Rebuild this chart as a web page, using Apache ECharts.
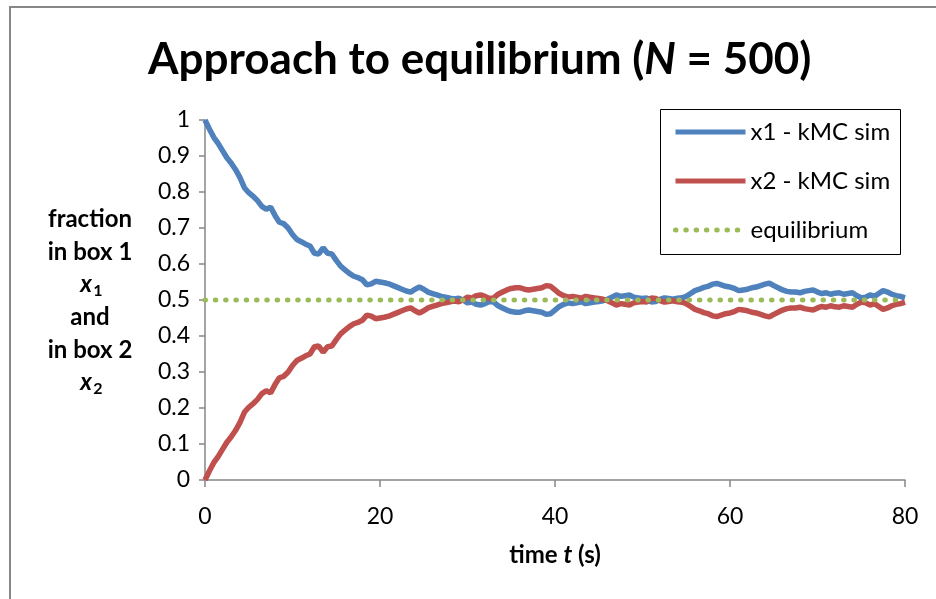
<!DOCTYPE html>
<html>
<head>
<meta charset="utf-8">
<script src="https://cdn.jsdelivr.net/npm/echarts@6/dist/echarts.min.js"></script>
<style>html,body{margin:0;padding:0;background:#fff}#c{width:936px;height:599px}</style>
</head>
<body>
<div id="c"></div>
<script>
// sampled every 0.5 s from t = 0 to t = 80
const x1 = [1.000,0.975,0.952,0.935,0.915,0.895,0.880,0.862,0.840,0.812,0.798,0.788,0.776,0.760,0.752,0.758,0.735,0.716,0.712,0.700,
0.682,0.668,0.662,0.655,0.650,0.630,0.628,0.645,0.630,0.628,0.610,0.594,0.584,0.574,0.566,0.562,0.556,0.542,0.545,0.552,
0.550,0.548,0.545,0.540,0.535,0.530,0.525,0.522,0.530,0.536,0.530,0.522,0.518,0.514,0.510,0.508,0.505,0.503,0.505,0.500,
0.492,0.495,0.488,0.486,0.490,0.496,0.494,0.484,0.478,0.472,0.468,0.466,0.466,0.470,0.472,0.470,0.468,0.466,0.460,0.462,
0.472,0.482,0.488,0.492,0.490,0.492,0.495,0.490,0.492,0.494,0.496,0.498,0.502,0.508,0.514,0.510,0.512,0.514,0.508,0.506,
0.504,0.506,0.494,0.496,0.502,0.506,0.504,0.502,0.505,0.506,0.510,0.518,0.526,0.530,0.535,0.538,0.544,0.546,0.542,0.538,
0.536,0.532,0.526,0.528,0.530,0.534,0.536,0.540,0.544,0.547,0.540,0.534,0.528,0.524,0.522,0.522,0.520,0.524,0.526,0.528,
0.522,0.518,0.520,0.516,0.519,0.520,0.516,0.518,0.520,0.512,0.506,0.508,0.514,0.510,0.518,0.526,0.522,0.516,0.512,0.510,
0.506];
const x2 = [0.000,0.025,0.048,0.065,0.085,0.105,0.120,0.138,0.160,0.188,0.202,0.212,0.224,0.240,0.248,0.242,0.265,0.284,0.288,0.300,
0.318,0.332,0.338,0.345,0.350,0.370,0.372,0.355,0.370,0.372,0.390,0.406,0.416,0.426,0.434,0.438,0.444,0.458,0.455,0.448,
0.450,0.452,0.455,0.460,0.465,0.470,0.475,0.478,0.470,0.464,0.470,0.478,0.482,0.486,0.490,0.492,0.495,0.497,0.495,0.500,
0.508,0.505,0.512,0.514,0.510,0.504,0.506,0.516,0.522,0.528,0.532,0.534,0.534,0.530,0.528,0.530,0.532,0.534,0.540,0.538,
0.528,0.518,0.512,0.508,0.510,0.508,0.505,0.510,0.508,0.506,0.504,0.502,0.498,0.492,0.486,0.490,0.488,0.486,0.492,0.494,
0.496,0.494,0.506,0.504,0.498,0.494,0.496,0.498,0.495,0.494,0.490,0.482,0.474,0.470,0.465,0.462,0.456,0.454,0.458,0.462,
0.464,0.468,0.474,0.472,0.470,0.466,0.464,0.460,0.456,0.453,0.460,0.466,0.472,0.476,0.478,0.478,0.480,0.476,0.474,0.472,
0.478,0.482,0.480,0.484,0.481,0.480,0.484,0.482,0.480,0.488,0.494,0.492,0.486,0.490,0.482,0.474,0.478,0.484,0.488,0.490,
0.494];
const eqTimes = [0, 80];
const eqValues = [0.5, 0.5];
const xTicks = [0, 20, 40, 60, 80];
const yTicks = [0, 0.1, 0.2, 0.3, 0.4, 0.5, 0.6, 0.7, 0.8, 0.9, 1];
const seriesNames = ['x1 - kMC sim', 'x2 - kMC sim', 'equilibrium'];

const times = x1.map((_, i) => i * 0.5);
const FONT = 'Lato, "Open Sans", sans-serif';

const chart = echarts.init(document.getElementById('c'), null, {renderer: 'canvas'});
chart.setOption({
  animation: false,
  backgroundColor: '#fff',
  grid: {left: 205, right: 31, top: 120, bottom: 119, containLabel: false},
  title: {
    text: '{n|Approach to equilibrium (}{i|N}{n| = 500)}',
    left: 143,
    top: 33,
    textStyle: {
      rich: {
        n: {fontFamily: FONT, fontWeight: 'bold', fontSize: 44, color: '#000'},
        i: {fontFamily: FONT, fontWeight: 'bold', fontStyle: 'italic', fontSize: 44, color: '#000'}
      }
    }
  },
  legend: {
    orient: 'vertical',
    left: 660,
    top: 109,
    padding: [11, 10, 11, 13],
    itemWidth: 70,
    itemHeight: 20,
    itemGap: 25,
    data: seriesNames,
    itemStyle: {opacity: 0},
    lineStyle: {width: 5},
    textStyle: {fontFamily: FONT, fontSize: 24, color: '#000'}
  },
  xAxis: {
    type: 'value', min: 0, max: 80, interval: 20,
    axisLine: {lineStyle: {color: '#868686', width: 1.5}},
    axisTick: {show: true, inside: false, length: 7, lineStyle: {color: '#868686', width: 1.5}},
    splitLine: {show: false},
    axisLabel: {margin: 25, fontFamily: FONT, fontSize: 23, color: '#000',
      formatter: v => xTicks.includes(v) ? String(v) : ''}
  },
  yAxis: {
    type: 'value', min: 0, max: 1, interval: 0.1,
    axisLine: {show: true, lineStyle: {color: '#868686', width: 1.5}},
    axisTick: {show: true, inside: false, length: 6, lineStyle: {color: '#868686', width: 1.5}},
    splitLine: {show: false},
    axisLabel: {margin: 15, fontFamily: FONT, fontSize: 23, color: '#000',
      formatter: v => { const t = yTicks.find(y => Math.abs(y - v) < 1e-9); return t === undefined ? '' : String(t); }}
  },
  series: [
    {name: seriesNames[0], type: 'line', symbol: 'none', data: times.map((t, i) => [t, x1[i]]),
      lineStyle: {color: '#4F81BD', width: 5.5}, itemStyle: {color: '#4F81BD'}, z: 3},
    {name: seriesNames[1], type: 'line', symbol: 'none', data: times.map((t, i) => [t, x2[i]]),
      lineStyle: {color: '#C0504D', width: 5.5}, itemStyle: {color: '#C0504D'}, z: 4},
    {name: seriesNames[2], type: 'line', symbol: 'none', data: eqTimes.map((t, i) => [t, eqValues[i]]),
      lineStyle: {color: '#9BBB59', width: 5, type: [0.5, 9.8], cap: 'round'}, itemStyle: {color: '#9BBB59'}, z: 5}
  ],
  graphic: [
    {type: 'rect', shape: {x: 10, y: 7, width: 1000, height: 700}, style: {fill: 'none', stroke: '#888', lineWidth: 2}, z: -10, silent: true},
    {type: 'rect', shape: {x: 660.5, y: 109.5, width: 240, height: 145}, style: {fill: 'none', stroke: '#000', lineWidth: 1}, z: 10, silent: true},
    {type: 'group', silent: true, children: [
      {type: 'text', x: 90, y: 219, style: {text: 'fraction', font: 'bold 24px ' + FONT, fill: '#000', align: 'center', verticalAlign: 'middle'}},
      {type: 'text', x: 90, y: 252, style: {text: 'in box 1', font: 'bold 24px ' + FONT, fill: '#000', align: 'center', verticalAlign: 'middle'}},
      {type: 'text', x: 86, y: 284, style: {text: 'x', font: 'italic bold 24px ' + FONT, fill: '#000', align: 'center', verticalAlign: 'middle'}},
      {type: 'text', x: 98, y: 291, style: {text: '1', font: 'bold 16px ' + FONT, fill: '#000', align: 'center', verticalAlign: 'middle'}},
      {type: 'text', x: 90, y: 317, style: {text: 'and', font: 'bold 24px ' + FONT, fill: '#000', align: 'center', verticalAlign: 'middle'}},
      {type: 'text', x: 90, y: 350, style: {text: 'in box 2', font: 'bold 24px ' + FONT, fill: '#000', align: 'center', verticalAlign: 'middle'}},
      {type: 'text', x: 86, y: 382, style: {text: 'x', font: 'italic bold 24px ' + FONT, fill: '#000', align: 'center', verticalAlign: 'middle'}},
      {type: 'text', x: 98, y: 389, style: {text: '2', font: 'bold 16px ' + FONT, fill: '#000', align: 'center', verticalAlign: 'middle'}},
      {type: 'text', x: 555, y: 555, style: {
        text: '{n|time }{i|t}{n| (s)}', align: 'center', verticalAlign: 'middle',
        rich: {
          n: {font: 'bold 24px ' + FONT, fill: '#000'},
          i: {font: 'italic bold 24px ' + FONT, fill: '#000'}
        }}}
    ]}
  ]
});
</script>
</body>
</html>
